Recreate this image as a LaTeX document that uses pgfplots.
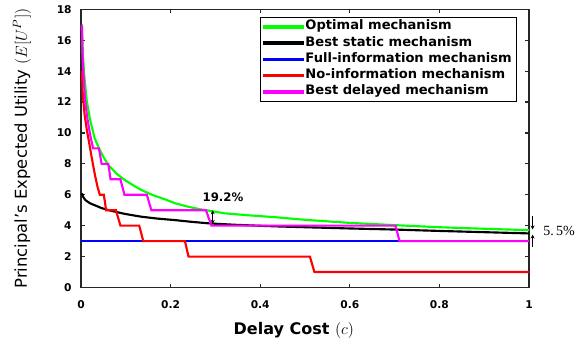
\documentclass[border=0pt]{standalone}
\usepackage{fontspec}
\setmainfont{DejaVu Sans}
\newfontfamily\serifnum{Liberation Serif}
\usepackage{pgfplots}
\pgfplotsset{compat=1.18}
\usetikzlibrary{arrows.meta}
\definecolor{axgray}{RGB}{38,38,38}
\definecolor{cgreen}{RGB}{0,255,0}
\definecolor{cblue}{RGB}{0,0,255}
\definecolor{cred}{RGB}{255,0,0}
\definecolor{cmag}{RGB}{255,0,255}
\begin{document}
\begin{tikzpicture}
\begin{axis}[
  scale only axis, width=336pt, height=208.65pt,
  xmin=0, xmax=1, ymin=0, ymax=18,
  xtick={0,0.2,0.4,0.6,0.8,1}, xticklabels={0,0.2,0.4,0.6,0.8,1},
  ytick={0,2,...,18},
  tick align=inside, major tick length=3pt,
  axis line style={axgray, line width=0.9pt},
  tick style={axgray, line width=0.9pt},
  ticklabel style={font=\fontsize{8}{9.6}\selectfont\bfseries},
  /pgf/number format/assume math mode=true,
  xticklabel style={anchor=base, yshift=-15.6pt},
  yticklabel style={anchor=east, xshift=-3.5pt},
  xlabel={Delay Cost $(c)$},
  xlabel style={font=\fontsize{12}{14}\selectfont\bfseries, at={(axis description cs:0.475,-0.168)}, anchor=base},
  ylabel={Principal’s Expected Utility $(E[U^P])$},
  ylabel style={font=\fontsize{12.3}{14}\selectfont, at={(axis description cs:-0.132,0.5)}, anchor=center},
  clip=false,
  legend cell align=left,
  legend image code/.code={\fill[#1] (0pt,-0.95pt) rectangle (30pt,0.95pt);},
  legend style={at={(0.973,0.973)}, anchor=north east, draw=black, line width=0.6pt,
    font=\fontsize{9.8}{11}\selectfont\bfseries, fill=white, inner xsep=2pt, inner ysep=1pt,
    row sep=0pt, nodes={inner sep=1.5pt, text height=7pt, text depth=2.2pt}},
]
\addlegendimage{cgreen}
\addlegendentry{Optimal mechanism}
\addlegendimage{black}
\addlegendentry{Best static mechanism}
\addlegendimage{cblue}
\addlegendentry{Full-information mechanism}
\addlegendimage{cred}
\addlegendentry{No-information mechanism}
\addlegendimage{cmag}
\addlegendentry{Best delayed mechanism}
\addplot[cgreen, line width=1.6pt, forget plot] coordinates {
(0.002,17.0)(0.004,15.2)(0.007,13.8)(0.0127,12.1)(0.02,10.9)(0.03,9.7)(0.0387,9.1)(0.05,8.45)(0.061,7.92)(0.08,7.35)(0.098,6.95)(0.12,6.55)(0.135,6.31)(0.16,5.98)(0.19,5.68)(0.21,5.45)(0.24,5.22)(0.266,5.06)(0.29,4.95)(0.321,4.8)(0.37,4.68)(0.433,4.55)(0.5,4.38)(0.6,4.18)(0.697,4.04)(0.8,3.9)(0.9,3.8)(1.0,3.71)};
\addplot[black, line width=1.6pt, forget plot] coordinates {
(0.002,6.1)(0.005,5.85)(0.01,5.65)(0.02,5.45)(0.031,5.32)(0.045,5.15)(0.061,5.01)(0.08,4.88)(0.098,4.76)(0.135,4.58)(0.17,4.46)(0.21,4.36)(0.25,4.24)(0.29,4.14)(0.35,4.05)(0.43,3.96)(0.5,3.9)(0.6,3.82)(0.7,3.75)(0.8,3.66)(0.9,3.58)(1.0,3.5)};
\addplot[cblue, line width=1.6pt, forget plot] coordinates {(0,3)(1,3)};
\addplot[cred, line width=1.6pt, forget plot] coordinates {
(0.002,14.0)(0.004,12.5)(0.008,11.2)(0.013,10.2)(0.018,9.4)(0.024,8.4)(0.031,7.3)(0.037,6.5)(0.042,6.0)(0.051,6.0)(0.056,5.0)(0.078,5.0)(0.088,4.0)(0.130,4.0)(0.139,3.0)(0.232,3.0)(0.240,2.0)(0.511,2.0)(0.521,1.0)(1.0,1.0)};
\addplot[cmag, line width=1.6pt, forget plot] coordinates {
(0.002,17.0)(0.004,14.6)(0.009,12.1)(0.015,10.8)(0.021,9.8)(0.027,9.0)(0.040,9.0)(0.046,8.0)(0.061,8.0)(0.066,7.0)(0.088,7.0)(0.097,6.0)(0.147,6.0)(0.157,5.0)(0.279,5.0)(0.291,4.0)(0.702,4.0)(0.711,3.0)(1.0,3.0)};
\draw[black, line width=0.8pt, {Stealth[length=3pt,width=3pt]}-{Stealth[length=3pt,width=3pt]}] (axis cs:0.294,4.12) -- (axis cs:0.294,5.0);
\node[font=\fontsize{8.8}{10}\selectfont\bfseries] at (axis cs:0.317,5.82) {19.2\%};
\draw[black, line width=0.8pt, -{Stealth[length=3pt,width=3pt]}] (axis cs:1.008,4.6) -- (axis cs:1.008,3.75);
\draw[black, line width=0.8pt, -{Stealth[length=3pt,width=3pt]}] (axis cs:1.008,2.6) -- (axis cs:1.008,3.42);
\node[font=\serifnum\fontsize{10.5}{12}\selectfont] at (axis cs:1.067,3.65) {5.\,5\%};
\end{axis}
\path (current axis.south west) ++(-60.75pt,-39.375pt) coordinate (bl);
\path (current axis.north east) ++(39.75pt,6.975pt) coordinate (tr);
\pgfresetboundingbox
\path (bl) rectangle (tr);
\end{tikzpicture}
\end{document}
